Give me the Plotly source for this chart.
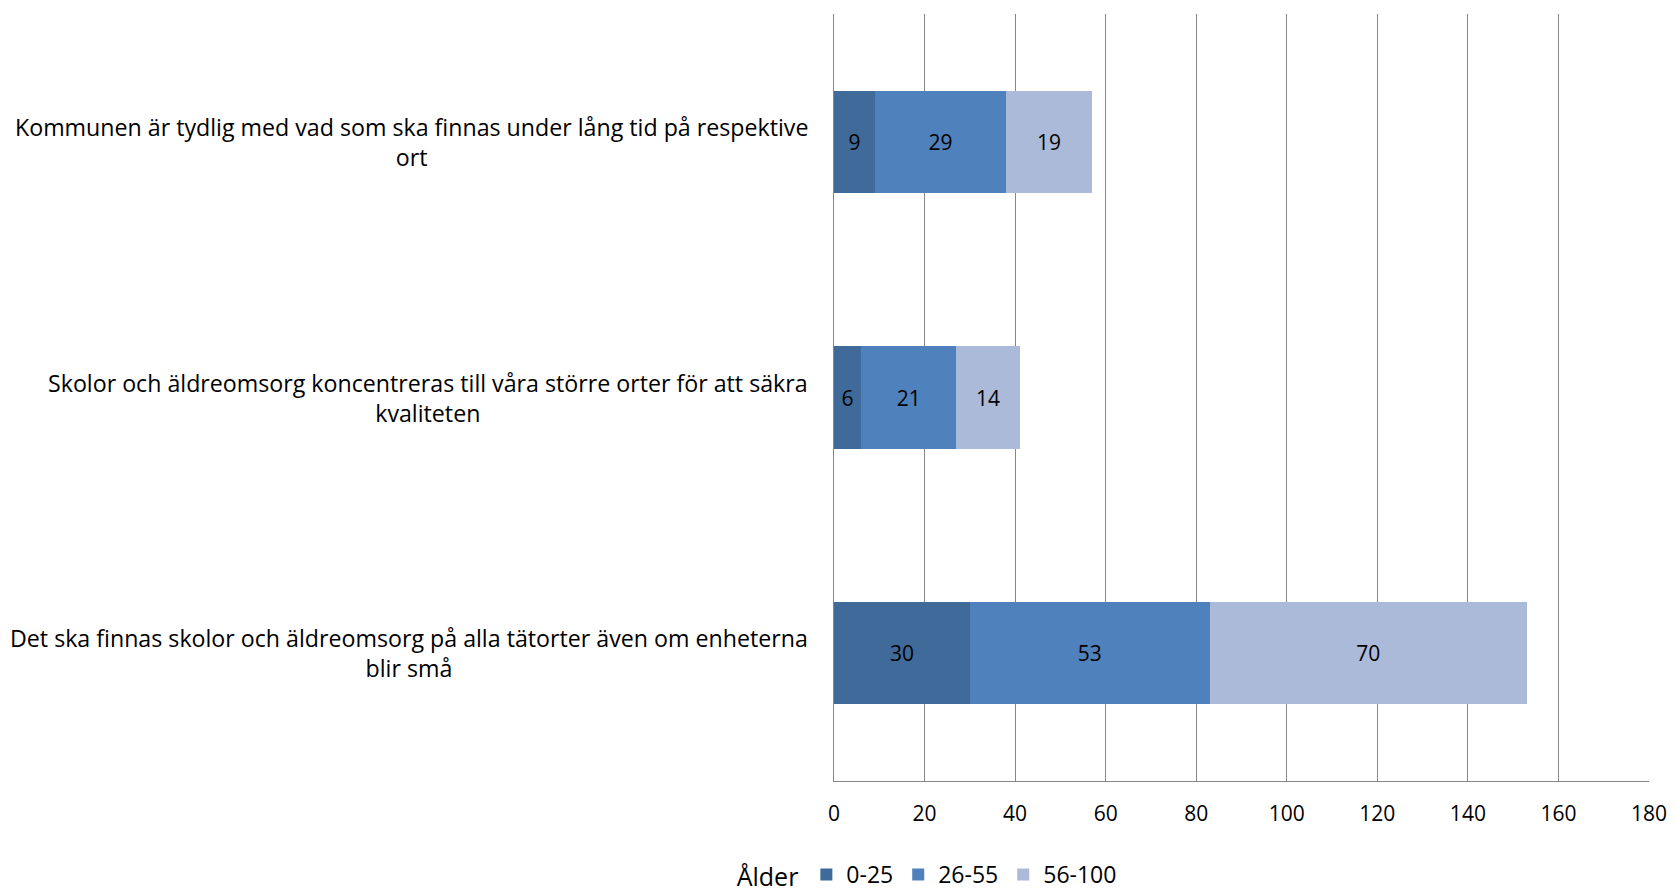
import plotly.graph_objects as go

categories = [
    "Kommunen är tydlig med vad som ska finnas under lång tid på respektive<br>ort",
    "Skolor och äldreomsorg koncentreras till våra större orter för att säkra<br>kvaliteten",
    "Det ska finnas skolor och äldreomsorg på alla tätorter även om enheterna<br>blir små",
]
cat_ids = ["c1", "c2", "c3"]
series_names = ["0-25", "26-55", "56-100"]
v_0_25 = [9, 6, 30]
v_26_55 = [29, 21, 53]
v_56_100 = [19, 14, 70]
colors = ["#3F6A9A", "#4F81BD", "#AABAD8"]
tick_vals = [0, 20, 40, 60, 80, 100, 120, 140, 160, 180]

FONT = "Open Sans, Noto Sans, DejaVu Sans, sans-serif"

fig = go.Figure()
for name, vals, col in zip(series_names, [v_0_25, v_26_55, v_56_100], colors):
    fig.add_trace(go.Bar(
        y=cat_ids, x=vals, name=name, orientation="h",
        marker=dict(color=col, line=dict(width=0)),
        text=[str(v) for v in vals], textposition="inside",
        insidetextanchor="middle", textangle=0, constraintext="none",
        textfont=dict(color="black", size=21, family=FONT),
        width=0.4,
    ))

for cid, label in zip(cat_ids, categories):
    fig.add_annotation(
        x=0, xref="paper", xanchor="right", xshift=-24,
        y=cid, yref="y", yanchor="middle",
        text=label, showarrow=False, align="center",
        font=dict(size=23.2, family=FONT, color="black"),
    )

fig.update_layout(
    width=1667, height=888,
    margin=dict(l=826, r=26, t=6, b=115),
    barmode="stack",
    plot_bgcolor="white", paper_bgcolor="white",
    font=dict(family=FONT, color="black", size=21),
    showlegend=True,
    legend=dict(
        orientation="h", xref="container", yref="container",
        x=0.552, xanchor="center", y=0.0, yanchor="bottom",
        title=dict(text="Ålder", font=dict(size=25), side="left"),
        font=dict(size=23), traceorder="normal",
        itemwidth=30,
    ),
    bargap=0.6,
)
fig.update_xaxes(
    range=[0, 180], tickvals=tick_vals, showgrid=True,
    gridcolor="#878787", gridwidth=1.3, showline=True, linecolor="#878787",
    linewidth=1.3, zeroline=False, ticks="", tickfont=dict(size=21), ticklabelstandoff=14,
)
fig.update_yaxes(
    categoryorder="array", categoryarray=cat_ids, autorange="reversed",
    showticklabels=False, showgrid=False, showline=True,
    linecolor="#878787", linewidth=1.3, ticks="",
)

fig.write_html("out.html")
